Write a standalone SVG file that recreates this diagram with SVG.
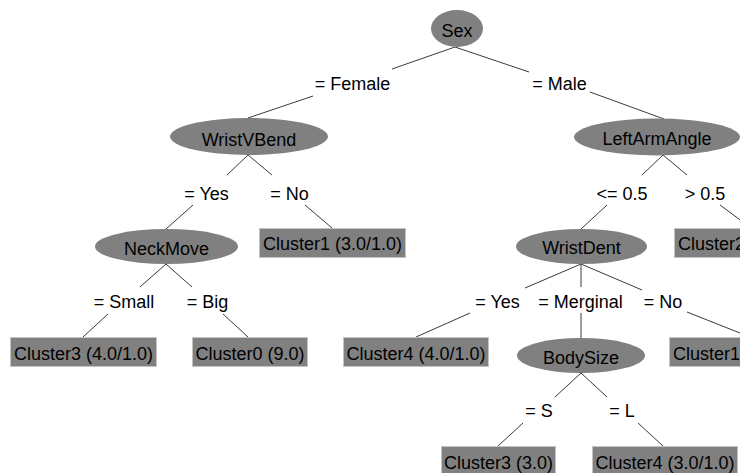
<svg xmlns="http://www.w3.org/2000/svg" width="740" height="473" viewBox="0 0 740 473">
<style>
.n ellipse{fill:#808080;stroke:none}
.n rect{fill:#808080;stroke:#c4c4c4;stroke-width:1}
text{font-family:"Liberation Sans",Arial,sans-serif;font-size:18px;fill:#000}
.c{text-anchor:middle}
.s{text-anchor:start}
#edges line{stroke:#3a3a3a;stroke-width:1}
</style>
<rect width="740" height="473" fill="#fff"/>
<g id="edges">
<line x1="455" y1="47" x2="392" y2="69"/>
<line x1="455" y1="47" x2="529" y2="72"/>
<line x1="313" y1="96" x2="248" y2="118"/>
<line x1="590" y1="92" x2="664" y2="119"/>
<line x1="248" y1="155" x2="227" y2="175"/>
<line x1="248" y1="155" x2="272" y2="175"/>
<line x1="663" y1="155" x2="642" y2="175"/>
<line x1="663" y1="155" x2="687" y2="175"/>
<line x1="193" y1="205" x2="166" y2="229"/>
<line x1="305" y1="205" x2="332" y2="228"/>
<line x1="607" y1="205" x2="581" y2="229"/>
<line x1="720" y1="205" x2="751" y2="228"/>
<line x1="166" y1="264" x2="140" y2="287"/>
<line x1="166" y1="264" x2="192" y2="287"/>
<line x1="108" y1="314" x2="83" y2="337"/>
<line x1="223" y1="314" x2="248" y2="337"/>
<line x1="581" y1="264" x2="525" y2="288"/>
<line x1="581" y1="264" x2="581" y2="287"/>
<line x1="581" y1="264" x2="642" y2="290"/>
<line x1="470" y1="313" x2="416" y2="337"/>
<line x1="581" y1="313" x2="581" y2="338"/>
<line x1="687" y1="312" x2="750" y2="337"/>
<line x1="581" y1="373" x2="555" y2="397"/>
<line x1="581" y1="373" x2="607" y2="397"/>
<line x1="523" y1="423" x2="498" y2="446"/>
<line x1="638" y1="423" x2="663" y2="446"/>
</g>
<g id="edge-labels">
<text class="c" x="352.5" y="90">= Female</text>
<text class="c" x="559.5" y="90">= Male</text>
<text class="c" x="206.5" y="200">= Yes</text>
<text class="c" x="289.5" y="200">= No</text>
<text class="c" x="622" y="200">&lt;= 0.5</text>
<text class="c" x="705" y="200">&gt; 0.5</text>
<text class="c" x="124" y="308">= Small</text>
<text class="c" x="207.5" y="308">= Big</text>
<text class="c" x="497.5" y="308">= Yes</text>
<text class="c" x="580.5" y="308">= Merginal</text>
<text class="c" x="663" y="308">= No</text>
<text class="c" x="539" y="417">= S</text>
<text class="c" x="622" y="417">= L</text>
</g>
<g id="sex" class="n"><ellipse cx="457" cy="28.5" rx="26" ry="18.5"/><text class="c" x="457" y="37">Sex</text></g>
<g id="wristvbend" class="n"><ellipse cx="249" cy="136.5" rx="79" ry="18.5"/><text class="c" x="249" y="146">WristVBend</text></g>
<g id="leftarmangle" class="n"><ellipse cx="657" cy="137" rx="83" ry="18.5"/><text class="c" x="657" y="145">LeftArmAngle</text></g>
<g id="neckmove" class="n"><ellipse cx="166.5" cy="246.5" rx="71.5" ry="17.5"/><text class="c" x="166.5" y="255">NeckMove</text></g>
<g id="wristdent" class="n"><ellipse cx="581.5" cy="246.5" rx="65.5" ry="17.5"/><text class="c" x="581.5" y="254">WristDent</text></g>
<g id="bodysize" class="n"><ellipse cx="581" cy="355.5" rx="64" ry="17.5"/><text class="c" x="581" y="364">BodySize</text></g>
<g id="cluster1a" class="n"><rect x="259.5" y="228.5" width="146" height="29"/><text class="c" x="332.5" y="250">Cluster1 (3.0/1.0)</text></g>
<g id="cluster2" class="n"><rect x="674.5" y="228.5" width="90" height="29"/><text class="s" x="678" y="250">Cluster2</text></g>
<g id="cluster3a" class="n"><rect x="10.5" y="337.5" width="146" height="29"/><text class="c" x="83.5" y="360">Cluster3 (4.0/1.0)</text></g>
<g id="cluster0" class="n"><rect x="192.5" y="337.5" width="115" height="29"/><text class="c" x="250" y="360">Cluster0 (9.0)</text></g>
<g id="cluster4a" class="n"><rect x="343.5" y="337.5" width="145" height="29"/><text class="c" x="416" y="360">Cluster4 (4.0/1.0)</text></g>
<g id="cluster1b" class="n"><rect x="669.5" y="337.5" width="100" height="29"/><text class="s" x="673" y="360">Cluster1</text></g>
<g id="cluster3b" class="n"><rect x="441.5" y="446.5" width="114" height="29"/><text class="c" x="498.5" y="469">Cluster3 (3.0)</text></g>
<g id="cluster4b" class="n"><rect x="592.5" y="446.5" width="145" height="29"/><text class="c" x="665" y="469">Cluster4 (3.0/1.0)</text></g>
</svg>
